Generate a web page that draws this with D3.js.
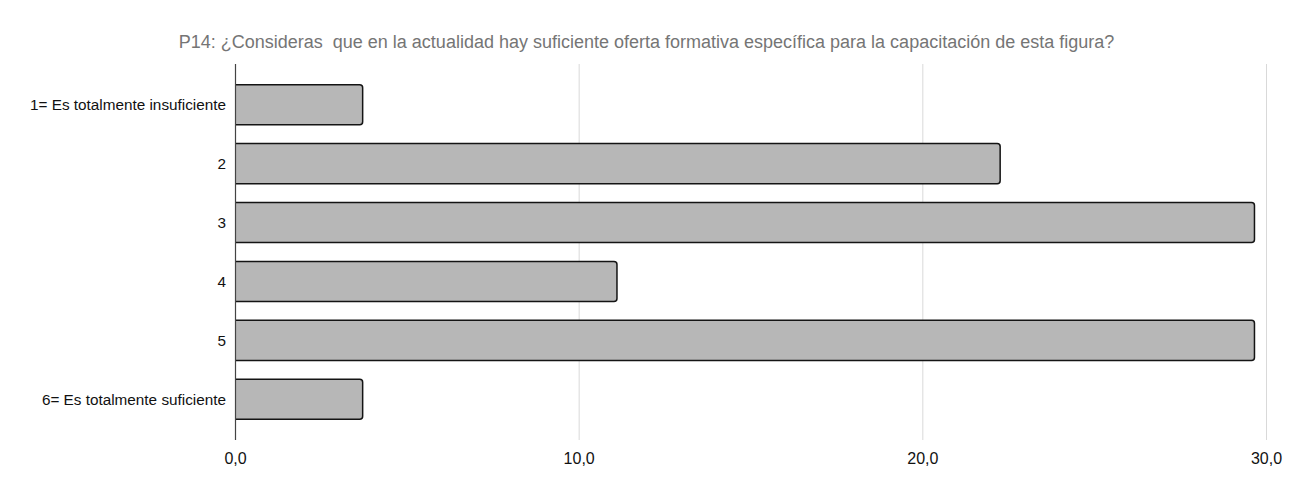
<!DOCTYPE html>
<html>
<head>
<meta charset="utf-8">
<script src="https://cdn.jsdelivr.net/npm/d3@7"></script>
<style>
  body { margin: 0; background: #fff; }
  text { font-family: "Liberation Sans", Arial, sans-serif; }
</style>
</head>
<body>
<svg id="canvas" width="1290" height="483"></svg>
<script>
// answers for P14, values are % of respondents
var categories = ["1= Es totalmente insuficiente", "2", "3", "4", "5", "6= Es totalmente suficiente"];
var values = [3.7, 22.25, 29.65, 11.1, 29.65, 3.7];
var xTicks = [0, 10, 20, 30];
var title = "P14: ¿Consideras  que en la actualidad hay suficiente oferta formativa específica para la capacitación de esta figura?";

var svg = d3.select("#canvas");

var x = d3.scaleLinear().domain([0, 30]).range([235.5, 1266.5]);
var y = d3.scaleBand().domain(categories).range([64, 440])
    .paddingInner(0.32).paddingOuter(0.35);

svg.append("text")
    .attr("x", 646.5).attr("y", 48)
    .attr("text-anchor", "middle")
    .style("white-space", "pre")
    .attr("font-size", 18)
    .attr("fill", "#757575")
    .text(title);

// vertical grid lines
svg.append("g").selectAll("line")
  .data(xTicks.filter(function(d) { return d > 0; }))
  .enter().append("line")
    .attr("x1", function(d) { return x(d); })
    .attr("x2", function(d) { return x(d); })
    .attr("y1", 64).attr("y2", 440)
    .attr("stroke", "#d9d9d9").attr("stroke-width", 1);

// bars
svg.append("g").selectAll("rect")
  .data(values)
  .enter().append("rect")
    .attr("x", x(0) - 4)
    .attr("y", function(d, i) { return y(categories[i]); })
    .attr("width", function(d) { return x(d) - x(0) + 4; })
    .attr("height", y.bandwidth())
    .attr("rx", 3)
    .attr("fill", "#b7b7b7")
    .attr("stroke", "#141414")
    .attr("stroke-width", 1.5);

// cover the left part of bars so they start at the axis
svg.append("rect")
    .attr("x", 200).attr("y", 60).attr("width", 35).attr("height", 385)
    .attr("fill", "#fff");

// y axis line
svg.append("line")
    .attr("x1", x(0)).attr("x2", x(0))
    .attr("y1", 64).attr("y2", 440)
    .attr("stroke", "#444").attr("stroke-width", 1.2);

// category labels
svg.append("g").selectAll("text")
  .data(categories)
  .enter().append("text")
    .attr("x", 226)
    .attr("y", function(d) { return y(d) + y.bandwidth() / 2; })
    .attr("dy", "0.35em")
    .attr("text-anchor", "end")
    .attr("font-size", 15.3)
    .attr("fill", "#111")
    .text(function(d) { return d; });

// x tick labels
var fmt = function(d) { return d3.format(".1f")(d).replace(".", ","); };
svg.append("g").selectAll("text")
  .data(xTicks)
  .enter().append("text")
    .attr("x", function(d) { return x(d); })
    .attr("y", 464)
    .attr("text-anchor", "middle")
    .attr("font-size", 16)
    .attr("fill", "#111")
    .text(fmt);
</script>
</body>
</html>
